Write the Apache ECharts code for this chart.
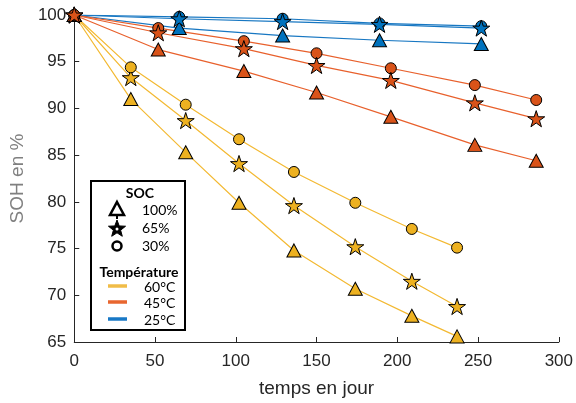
<!DOCTYPE html>
<html>
<head>
<meta charset="utf-8">
<script src="https://cdn.jsdelivr.net/npm/echarts@6/dist/echarts.min.js"></script>
<style>html,body{margin:0;padding:0;background:#fff}#c{width:576px;height:403px}</style>
</head>
<body>
<div id="c"></div>
<script>
// ---- data ----
const days60 = [0, 35, 69, 102, 136, 174, 209, 237];
const soh60_100 = [100, 91.0, 85.3, 79.9, 74.8, 70.7, 67.8, 65.6];
const soh60_65  = [100, 93.3, 88.7, 84.1, 79.6, 75.2, 71.5, 68.8];
const soh60_30  = [100, 94.4, 90.4, 86.7, 83.2, 79.9, 77.1, 75.1];
const days45 = [0, 52, 105, 150, 196, 248, 286];
const soh45_100 = [100, 96.3, 94.0, 91.7, 89.1, 86.1, 84.4];
const soh45_65  = [100, 98.1, 96.4, 94.6, 93.0, 90.6, 88.9];
const soh45_30  = [100, 98.6, 97.2, 95.9, 94.3, 92.5, 90.9];
const days25 = [0, 65, 129, 189, 252];
const soh25_100 = [100, 98.6, 97.8, 97.3, 96.9];
const soh25_65  = [100, 99.6, 99.3, 99.0, 98.6];
const soh25_30  = [100, 99.8, 99.6, 99.1, 98.8];
const xTicks = [0, 50, 100, 150, 200, 250, 300];
const yTicks = [65, 70, 75, 80, 85, 90, 95, 100];
const socLabels = ['100%', '65%', '30%'];
const tempLabels = ['60°C', '45°C', '25°C'];

const STAR = 'path://M50 0 L61.23 34.55 L97.55 34.55 L68.16 55.9 L79.39 90.45 L50 69.1 L20.61 90.45 L31.84 55.9 L2.45 34.55 L38.77 34.55 Z';
const fill = {60:'#EDB120', 45:'#D95319', 25:'#0072BD'};
const lineCol = {60:'#F3B932', 45:'#E8602C', 25:'#1777C2'};
const sym = {100:{s:'triangle', z:[14,13]}, 65:{s:STAR, z:17}, 30:{s:'circle', z:11}};

function mk(days, vals, t, soc) {
  return {
    type: 'line',
    data: days.map((d, i) => [d, vals[i]]),
    symbol: sym[soc].s,
    symbolSize: sym[soc].z,
    symbolKeepAspect: true,
    showAllSymbol: true,
    lineStyle: {color: lineCol[t], width: 1.2},
    itemStyle: {color: fill[t], borderColor: '#000', borderWidth: 1},
    emphasis: {disabled: true},
    animation: false
  };
}

const series = [
  mk(days60, soh60_100, 60, 100), mk(days60, soh60_65, 60, 65), mk(days60, soh60_30, 60, 30),
  mk(days25, soh25_100, 25, 100), mk(days25, soh25_30, 25, 30), mk(days25, soh25_65, 25, 65),
  mk(days45, soh45_100, 45, 100), mk(days45, soh45_30, 45, 30), mk(days45, soh45_65, 45, 65)
];

// legend star icon points (icon only, not data)
function starPts(cx, cy, R, r) {
  const p = [];
  for (let k = 0; k < 10; k++) {
    const a = (-90 + k * 36) * Math.PI / 180;
    const rr = k % 2 ? r : R;
    p.push([cx + rr * Math.cos(a), cy + rr * Math.sin(a)]);
  }
  return p;
}

const axisCol = '#262626';
const LF = 'Lato, "Open Sans", sans-serif';
function txt(x, y, s, bold, align) {
  return {type:'text', x:x, y:y, z:100, style:{text:s, fontFamily:LF, fontSize:14, fontWeight: bold ? 'bold' : 'normal', fill:'#000', textAlign: align || 'left', textVerticalAlign:'middle'}};
}
const legendEls = [
  {type:'rect', z:99, shape:{x:91, y:181, width:94, height:149}, style:{fill:'#fff', stroke:'#000', lineWidth:2}},
  txt(140, 193, 'SOC', true, 'center'),
  {type:'polygon', z:100, shape:{points:[[117,202],[124,215],[110,215]]}, style:{fill:'#fff', stroke:'#000', lineWidth:2.5}},
  {type:'line', z:100, shape:{x1:117, y1:215, x2:117, y2:219}, style:{stroke:'#000', lineWidth:2}},
  {type:'polygon', z:100, shape:{points:starPts(117, 229, 9, 3.8)}, style:{fill:'#000', stroke:'#000', lineWidth:1}},
  {type:'circle', z:101, shape:{cx:117, cy:229, r:1.5}, style:{fill:'#fff'}},
  {type:'circle', z:100, shape:{cx:117, cy:246, r:4.5}, style:{fill:'#fff', stroke:'#000', lineWidth:2.5}},
  txt(142, 210, socLabels[0]),
  txt(142, 228, socLabels[1]),
  txt(142, 246, socLabels[2]),
  txt(139, 272, 'Température', true, 'center'),
  {type:'line', z:100, shape:{x1:108, y1:286, x2:127, y2:286}, style:{stroke:'#F0BC48', lineWidth:3.5}},
  {type:'line', z:100, shape:{x1:108, y1:302, x2:127, y2:302}, style:{stroke:'#E8662F', lineWidth:3.5}},
  {type:'line', z:100, shape:{x1:108, y1:319, x2:127, y2:319}, style:{stroke:'#1878C6', lineWidth:3.5}},
  txt(144, 287, tempLabels[0]),
  txt(144, 303, tempLabels[1]),
  txt(144, 320, tempLabels[2])
];

const chart = echarts.init(document.getElementById('c'), null, {renderer:'canvas'});
chart.setOption({
  animation: false,
  backgroundColor: '#fff',
  grid: {left: 71, right: 17, top: 15, bottom: 59, containLabel: false},
  xAxis: {
    type: 'value', min: xTicks[0], max: xTicks[xTicks.length-1], interval: 50,
    name: 'temps en jour', nameLocation: 'middle', nameGap: 37,
    nameTextStyle: {fontFamily: '"Liberation Sans", Arial, sans-serif', fontSize: 19, color: axisCol},
    axisLine: {lineStyle: {color: axisCol, width: 1}},
    axisTick: {inside: true, length: 5, lineStyle: {color: axisCol}},
    axisLabel: {fontFamily: '"Liberation Sans", Arial, sans-serif', fontSize: 17, color: axisCol, margin: 11},
    splitLine: {show: false}
  },
  yAxis: {
    type: 'value', min: yTicks[0], max: yTicks[yTicks.length-1], interval: 5,
    name: 'SOH en %', nameLocation: 'middle', nameGap: 44,
    nameTextStyle: {fontFamily: '"Liberation Sans", Arial, sans-serif', fontSize: 19, color: '#808080'},
    axisLine: {show: true, lineStyle: {color: axisCol, width: 1}},
    axisTick: {show: true, inside: true, length: 5, lineStyle: {color: axisCol}},
    axisLabel: {fontFamily: '"Liberation Sans", Arial, sans-serif', fontSize: 17, color: axisCol, margin: 8},
    splitLine: {show: false}
  },
  series: series,
  graphic: legendEls
});
</script>
</body>
</html>
